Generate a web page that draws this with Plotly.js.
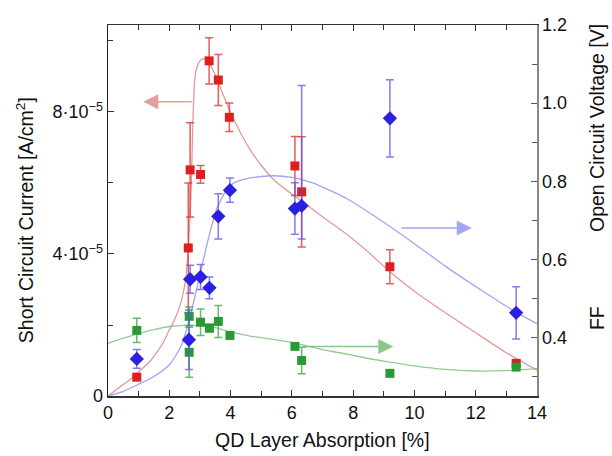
<!DOCTYPE html>
<html><head><meta charset="utf-8">
<script src="https://cdn.plot.ly/plotly-3.0.1.min.js"></script>
<style>html,body{margin:0;padding:0;background:#fff}#chart{width:612px;height:456px}</style>
</head><body><div id="chart"></div>
<script>
// Short circuit current (left axis, A/cm^2)
const jscX   = [0.94, 2.62, 2.68, 3.02, 3.30, 3.60, 3.96, 6.10, 6.32, 9.20, 13.32];
const jscY   = [0.53e-5, 4.17e-5, 6.37e-5, 6.24e-5, 9.44e-5, 8.90e-5, 7.85e-5, 6.48e-5, 5.75e-5, 3.64e-5, 0.92e-5];
const jscErr = [0.05e-5, 1.83e-5, 1.33e-5, 0.25e-5, 0.65e-5, 0.72e-5, 0.40e-5, 0.83e-5, 1.55e-5, 0.48e-5, 0.08e-5];
// Open circuit voltage (right axis, V)
const vocX   = [0.94, 2.64, 2.68, 3.02, 3.31, 3.60, 3.98, 6.10, 6.32, 9.20, 13.32];
const vocY   = [0.345, 0.394, 0.549, 0.555, 0.527, 0.710, 0.777, 0.730, 0.737, 0.961, 0.463];
const vocErrPlus  = [0.024, 0.076, 0.036, 0.032, 0.028, 0.058, 0.031, 0.066, 0.308, 0.099, 0.067];
const vocErrMinus = [0.024, 0.076, 0.036, 0.032, 0.028, 0.058, 0.031, 0.066, 0.085, 0.099, 0.067];
// Fill factor (right axis)
const ffX   = [0.94, 2.65, 2.65, 3.02, 3.31, 3.60, 3.98, 6.10, 6.32, 9.20, 13.32];
const ffY   = [0.418, 0.454, 0.362, 0.439, 0.424, 0.441, 0.405, 0.377, 0.341, 0.308, 0.324];
const ffErr = [0.031, 0.024, 0.064, 0.034, 0.010, 0.041, 0.0, 0.0, 0.034, 0.006, 0.006];
// Fit curves
const jscFitX = [0, 0.3, 0.7, 1.0, 1.4, 1.8, 2.0, 2.2, 2.4, 2.55, 2.65, 2.72, 2.78, 2.83, 2.9, 3.0, 3.1, 3.2, 3.35, 3.5, 3.75, 4.0, 4.3, 4.65, 5.0, 5.4, 5.9, 6.3, 7.0, 7.8, 8.5, 9.2, 10.0, 11.0, 12.0, 13.0, 14];
const jscFitY = [0, 0.2e-5, 0.45e-5, 0.68e-5, 1.0e-5, 1.5e-5, 1.86e-5, 2.2e-5, 2.7e-5, 3.4e-5, 4.6e-5, 6.0e-5, 8.0e-5, 8.9e-5, 9.25e-5, 9.43e-5, 9.5e-5, 9.47e-5, 9.3e-5, 9.05e-5, 8.5e-5, 8.0e-5, 7.45e-5, 6.92e-5, 6.5e-5, 6.1e-5, 5.75e-5, 5.5e-5, 5.05e-5, 4.55e-5, 4.05e-5, 3.5e-5, 2.95e-5, 2.35e-5, 1.78e-5, 1.22e-5, 0.73e-5];
const vocFitX = [0, 0.5, 1.0, 1.5, 2.0, 2.4, 2.7, 3.0, 3.25, 3.55, 3.85, 4.1, 4.5, 5.0, 5.4, 6.0, 6.7, 7.8, 8.9, 10.0, 11.05, 12.2, 13.2, 14];
const vocFitY = [0.25, 0.262, 0.28, 0.30, 0.33, 0.38, 0.46, 0.56, 0.645, 0.73, 0.775, 0.795, 0.806, 0.812, 0.814, 0.81, 0.795, 0.755, 0.70, 0.64, 0.58, 0.52, 0.47, 0.435];
const ffFitX = [0, 0.5, 1.0, 1.5, 2.0, 2.5, 3.0, 3.5, 4.0, 4.6, 5.3, 6.0, 6.5, 7.0, 7.8, 8.5, 9.2, 10.0, 11.0, 12.0, 13.0, 14];
const ffFitY = [0.385, 0.398, 0.41, 0.42, 0.428, 0.431, 0.43, 0.425, 0.414, 0.404, 0.396, 0.387, 0.378, 0.369, 0.357, 0.346, 0.337, 0.327, 0.318, 0.314, 0.315, 0.32];
// Ticks
const yTickVals = [0, 4e-5, 8e-5];
const yTickText = ['0', '4·10<sup>−5</sup>', '8·10<sup>−5</sup>'];

const RED='#dd1f1f', BLUE='#2b1fe0', GREEN='#2a9a35';
const traces = [
  {x: jscFitX, y: jscFitY, mode:'lines', line:{color:'rgba(215,120,120,0.75)', width:1.3, shape:'spline', smoothing:0.5}, yaxis:'y', hoverinfo:'skip'},
  {x: vocFitX, y: vocFitY, mode:'lines', line:{color:'rgba(140,140,240,0.8)', width:1.3, shape:'spline', smoothing:0.6}, yaxis:'y2', hoverinfo:'skip'},
  {x: ffFitX, y: ffFitY, mode:'lines', line:{color:'rgba(120,190,120,0.8)', width:1.3, shape:'spline', smoothing:0.6}, yaxis:'y2', hoverinfo:'skip'},
  {x: ffX, y: ffY, mode:'markers', yaxis:'y2', marker:{symbol:'square', size:9, color:GREEN},
   error_y:{type:'data', array: ffErr, color:'rgba(60,170,70,0.8)', thickness:1.5, width:4}},
  {x: vocX, y: vocY, mode:'markers', yaxis:'y2', marker:{symbol:'diamond', size:11, color:BLUE},
   error_y:{type:'data', symmetric:false, array: vocErrPlus, arrayminus: vocErrMinus, color:'rgba(90,80,235,0.75)', thickness:1.5, width:4}},
  {x: jscX, y: jscY, mode:'markers', yaxis:'y', marker:{symbol:'square', size:9, color:RED},
   error_y:{type:'data', array: jscErr, color:'rgba(225,50,50,0.8)', thickness:1.5, width:4}}
];
const F = 'Liberation Sans, Arial, sans-serif';
const layout = {
  width:612, height:456, showlegend:false,
  paper_bgcolor:'#fff', plot_bgcolor:'#fff',
  margin:{l:108, r:75, t:25, b:60},
  font:{family:F, size:18, color:'#111'},
  xaxis:{range:[0,14], tick0:0, dtick:2, ticks:'inside', ticklen:6,
         minor:{dtick:1, ticklen:5, ticks:'inside', tickcolor:'#333'},
         tickcolor:'#333', showline:true, linecolor:'#333', linewidth:1.5, mirror:'ticks', showgrid:false, zeroline:false,
         tickfont:{size:18}},
  yaxis:{range:[0,10.45e-5], tickmode:'array', tickvals:yTickVals, ticktext:yTickText, ticks:'inside', ticklen:6,
         minor:{tick0:0, dtick:2e-5, ticklen:5, ticks:'inside', tickcolor:'#333'},
         tickcolor:'#333', showline:true, linecolor:'#222', linewidth:1.5, showgrid:false, zeroline:false,
         tickfont:{size:18}},
  yaxis2:{range:[0.25,1.2], overlaying:'y', side:'right', tick0:0.4, dtick:0.2, tickformat:'.1f',
          minor:{tick0:0.3, dtick:0.1, ticklen:5, ticks:'inside', tickcolor:'#555'},
          ticks:'inside', ticklen:6, tickcolor:'#555', showline:true, linecolor:'#888', linewidth:1.5, showgrid:false, zeroline:false,
          tickfont:{size:18}},
  annotations:[
    {xref:'paper', yref:'paper', x:0.5, y:-0.1186, text:'QD Layer Absorption [%]', showarrow:false, font:{size:19.5}, xanchor:'center', yanchor:'middle'},
    {xref:'paper', yref:'paper', x:-0.1935, y:0.474, text:'Short Circuit Current [A/cm<sup>2</sup>]', textangle:-90, showarrow:false, font:{size:19.5}, xanchor:'center', yanchor:'middle'},
    {xref:'paper', yref:'paper', x:1.1399, y:0.7224, text:'Open Circuit Voltage [V]', textangle:-90, showarrow:false, font:{size:19.5}, xanchor:'center', yanchor:'middle'},
    {xref:'paper', yref:'paper', x:1.1399, y:0.21, text:'FF', textangle:-90, showarrow:false, font:{size:19.5}, xanchor:'center', yanchor:'middle'},
    {xref:'x', yref:'y', axref:'x', ayref:'y', x:1.15, y:8.29e-5, ax:2.78, ay:8.29e-5, text:'', showarrow:true,
     arrowhead:2, arrowsize:2, arrowwidth:1.5, arrowcolor:'rgba(225,140,140,0.85)'},
    {xref:'x', yref:'y2', axref:'x', ayref:'y2', x:11.87, y:0.68, ax:9.53, ay:0.68, text:'', showarrow:true,
     arrowhead:2, arrowsize:2, arrowwidth:1.5, arrowcolor:'rgba(150,150,240,0.85)'},
    {xref:'x', yref:'y2', axref:'x', ayref:'y2', x:9.31, y:0.377, ax:6.32, ay:0.377, text:'', showarrow:true,
     arrowhead:2, arrowsize:2, arrowwidth:1.5, arrowcolor:'rgba(120,190,120,0.85)'}
  ]
};
Plotly.newPlot('chart', traces, layout, {displayModeBar:false, staticPlot:true});
</script></body></html>
